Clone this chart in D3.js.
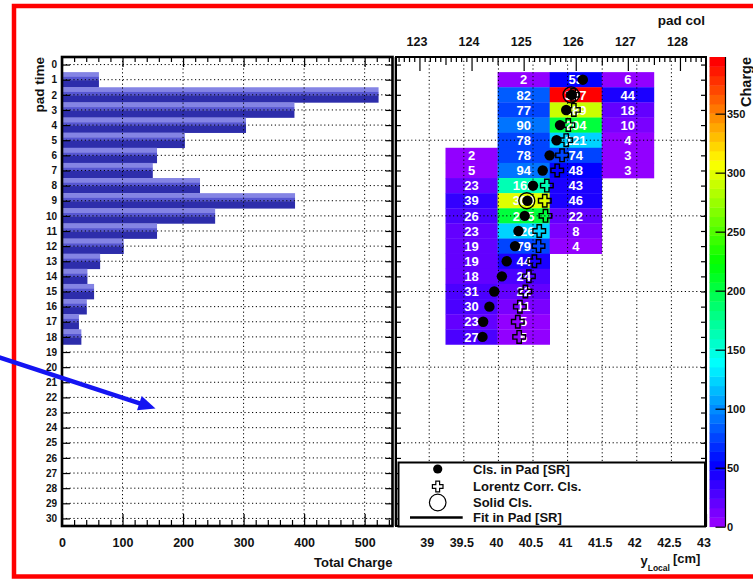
<!DOCTYPE html>
<html><head><meta charset="utf-8">
<script src="https://cdn.jsdelivr.net/npm/d3@7"></script>
<style>
body{margin:0;background:#fff}
svg{display:block}
text{font-family:"Liberation Sans",Arial,sans-serif;font-weight:bold;fill:#111}
</style>
</head><body>
<svg id="c" width="753" height="581"></svg>
<script>
// ---------------- data ----------------
const padTime = d3.range(0, 31);
const totalCharge = [0,61,523,384,304,203,157,150,228,385,253,157,102,63,42,53,41,28,32,0,0,0,0,0,0,0,0,0,0,0,0];
const chargeTicks = [0,100,200,300,400,500];

const padCols = [124,125,126,127];
const colStartRow = [6,1,1,1];
const colCharge = [
  [2,5,23,39,26,23,19,19,18,31,30,23,27],
  [2,82,77,90,78,78,94,162,300,205,126,79,44,24,22,11,5,5],
  [53,397,289,204,121,74,48,43,46,22,8,4],
  [6,44,18,10,4,3,3]
];
const padColTicks = [123,124,125,126,127,128];
const yLocalTicks = [39,39.5,40,40.5,41,41.5,42,42.5,43];
const zTicks = [0,50,100,150,200,250,300,350];

const clsRows = [1,2,3,4,5,6,7,8,9,10,11,12,13,14,15,16,17,18];
const clsY = [41.22,41.06,40.98,40.89,40.84,40.74,40.64,40.50,40.42,40.38,40.29,40.24,40.12,40.05,39.94,39.87,39.78,39.77];
const lorentzRows = [2,3,4,5,6,7,8,9,10,11,12,13,14,15,16,17,18];
const lorentzY = [41.08,41.09,41.01,40.98,40.92,40.85,40.70,40.67,40.68,40.59,40.58,40.52,40.44,40.39,40.31,40.28,40.30];
const solidRows = [2,9];
const solidY = [41.05,40.41];
const legendLabels = ["Cls. in Pad [SR]","Lorentz Corr. Cls.","Solid Cls.","Fit in Pad [SR]"];

// ---------------- layout ----------------
const svg = d3.select('#c');
const L = {x0:62, x1:392.5, y0:57, y1:526};
const R = {x0:396, x1:706, y0:57, y1:526};
const CB = {x0:709.5, x1:725.5};
const zMax = 398;

const yRow = d3.scaleLinear().domain([-0.5,30.5]).range([L.y0, L.y1]);
const xL = d3.scaleLinear().domain([0,546]).range([L.x0, L.x1]);
const xPad = d3.scaleLinear().domain([122.55,128.5]).range([R.x0, R.x1]);
const xLoc = d3.scaleLinear().domain([38.52,43.0]).range([R.x0, R.x1]);
const zScale = d3.scaleLinear().domain([0,zMax]).range([526.7, 57]);
const nPal = 50;
const palette = d3.range(nPal).map(i => d3.hsl(280-(i+1)*280/nPal, 1, 0.5).formatHex());
const zColor = d3.scaleQuantize().domain([0,zMax]).range(palette);

function dotted(g, x1,y1,x2,y2){
  g.append('line').attr('x1',x1).attr('y1',y1).attr('x2',x2).attr('y2',y2)
   .attr('stroke','#000').attr('stroke-width',1).attr('stroke-dasharray','1.2,2.6');
}
function crossPath(cx, cy, a=6.3, w=2.2){
  return `M${cx-w},${cy-a}h${2*w}v${a-w}h${a-w}v${2*w}h${-(a-w)}v${a-w}h${-2*w}v${-(a-w)}h${-(a-w)}v${-2*w}h${a-w}Z`;
}
function styleAxis(g, size){
  g.select('.domain').remove();
  g.selectAll('line').attr('stroke','#000').attr('stroke-width',1.2);
  g.selectAll('text').style('font-size',size+'px').attr('fill','#111');
}

// ---------------- left panel ----------------
const gL = svg.append('g');
const barColors = ['#8484e4','#5656d2','#2d2dab'];
const barFrac = [0,0.31,0.53,1];
padTime.forEach((t,i) => {
  const v = totalCharge[i];
  if (!v) return;
  const ya = yRow(t-0.5), yb = yRow(t+0.5);
  for (let k=0;k<3;k++){
    gL.append('rect').attr('x', xL(0)).attr('width', xL(v)-xL(0))
      .attr('y', ya+(yb-ya)*barFrac[k]).attr('height', (yb-ya)*(barFrac[k+1]-barFrac[k])+0.3)
      .attr('fill', barColors[k]);
  }
});
// grid
padTime.forEach(t => dotted(gL, L.x0, yRow(t), L.x1, yRow(t)));
chargeTicks.slice(1).forEach(c => dotted(gL, xL(c), L.y0, xL(c), L.y1));

// axes
const axL = gL.append('g').attr('transform',`translate(${L.x0},0)`)
  .call(d3.axisLeft(yRow).tickValues(padTime).tickSize(-8).tickPadding(5).tickFormat(d3.format('d')));
styleAxis(axL, 10);
const axLR = gL.append('g').attr('transform',`translate(${L.x1},0)`)
  .call(d3.axisRight(yRow).tickValues(padTime).tickSize(-7).tickFormat(''));
styleAxis(axLR, 10);
const minorC = d3.range(0,546,20).filter(v => v%100!==0);
const axLB = gL.append('g').attr('transform',`translate(0,${L.y1})`)
  .call(d3.axisBottom(xL).tickValues(chargeTicks).tickSize(-12).tickPadding(12.6).tickFormat(d3.format('d')));
styleAxis(axLB, 12.5);
const axLBm = gL.append('g').attr('transform',`translate(0,${L.y1})`)
  .call(d3.axisBottom(xL).tickValues(minorC).tickSize(-6).tickFormat(''));
styleAxis(axLBm, 12);
const axLT = gL.append('g').attr('transform',`translate(0,${L.y0})`)
  .call(d3.axisTop(xL).tickValues(chargeTicks).tickSize(-10).tickFormat(''));
styleAxis(axLT, 12);
const axLTm = gL.append('g').attr('transform',`translate(0,${L.y0})`)
  .call(d3.axisTop(xL).tickValues(minorC).tickSize(-5).tickFormat(''));
styleAxis(axLTm, 12);

gL.append('rect').attr('x',L.x0).attr('y',L.y0).attr('width',L.x1-L.x0).attr('height',L.y1-L.y0)
  .attr('fill','none').attr('stroke','#000').attr('stroke-width',2.6);

gL.append('text').attr('transform',`translate(43.5,${L.y0}) rotate(-90)`)
  .attr('text-anchor','end').style('font-size','13.5px').text('pad time');
gL.append('text').attr('x',L.x1).attr('y',567).attr('text-anchor','end')
  .style('font-size','13px').text('Total Charge');

// ---------------- right panel ----------------
const gR = svg.append('g');
gR.append('line').attr('x1',394.7).attr('x2',394.7).attr('y1',L.y0).attr('y2',L.y1).attr('stroke','#999').attr('stroke-width',1);

const cells = [];
padCols.forEach((c,ci) => colCharge[ci].forEach((v,k) => cells.push({col:c, row:colStartRow[ci]+k, v})));
gR.selectAll('rect.cell').data(cells).join('rect').attr('class','cell')
  .attr('x', d => xPad(d.col-0.5)).attr('width', d => xPad(d.col+0.5)-xPad(d.col-0.5)+0.3)
  .attr('y', d => yRow(d.row-0.5)).attr('height', d => yRow(d.row+0.5)-yRow(d.row-0.5)+0.3)
  .attr('fill', d => zColor(d.v));

// grid
yLocalTicks.slice(0,-1).forEach(v => dotted(gR, xLoc(v), R.y0, xLoc(v), R.y1));
[5,10,15,20,25,30].forEach(t => dotted(gR, R.x0, yRow(t), R.x1, yRow(t)));

// cell text
gR.selectAll('text.cv').data(cells).join('text').attr('class','cv')
  .attr('x', d => xPad(d.col)).attr('y', d => yRow(d.row)).attr('dy','0.36em')
  .attr('text-anchor','middle').style('font-size','13px').attr('fill','#fff').style('fill','#fff')
  .text(d => d.v);

// axes
const axRL = gR.append('g').attr('transform',`translate(${R.x0},0)`)
  .call(d3.axisLeft(yRow).tickValues(padTime).tickSize(-5).tickFormat(''));
styleAxis(axRL, 10);
const axRR = gR.append('g').attr('transform',`translate(${R.x1},0)`)
  .call(d3.axisRight(yRow).tickValues(padTime).tickSize(-5).tickFormat(''));
styleAxis(axRR, 10);
const axRT = gR.append('g').attr('transform',`translate(0,${R.y0})`)
  .call(d3.axisTop(xPad).tickValues(padColTicks).tickSize(-14).tickPadding(11).tickFormat(d3.format('d')));
styleAxis(axRT, 12.5);
axRT.selectAll('text').attr('dx', -3);
const padMinor = d3.range(1226,1285).map(v => v/10).filter(v => Math.abs(v-Math.round(v))>1e-6);
const axRTm = gR.append('g').attr('transform',`translate(0,${R.y0})`)
  .call(d3.axisTop(xPad).tickValues(padMinor).tickSize(-5).tickFormat(''));
styleAxis(axRTm, 10);
axRTm.selectAll('.tick').filter(d => Math.abs(d*2-Math.round(d*2))<1e-6).select('line').attr('y2', 8);
const axRB = gR.append('g').attr('transform',`translate(0,${R.y1})`)
  .call(d3.axisBottom(xLoc).tickValues(yLocalTicks).tickSize(-12).tickPadding(12.6).tickFormat(d3.format('~g')));
styleAxis(axRB, 12.5);
axRB.selectAll('text').attr('dx', -2.5);

gR.append('rect').attr('x',R.x0).attr('y',R.y0).attr('width',R.x1-R.x0).attr('height',R.y1-R.y0)
  .attr('fill','none').attr('stroke','#000').attr('stroke-width',2);

// markers
solidRows.forEach((r,i) => gR.append('circle').attr('cx', xLoc(solidY[i])).attr('cy', yRow(r)).attr('r', 8)
  .attr('fill','none').attr('stroke','#000').attr('stroke-width',1.3));
lorentzRows.forEach((r,i) => gR.append('path').attr('d', crossPath(xLoc(lorentzY[i]), yRow(r)))
  .attr('fill','none').attr('stroke','#000').attr('stroke-width',1.4));
clsRows.forEach((r,i) => gR.append('circle').attr('cx', xLoc(clsY[i])).attr('cy', yRow(r)).attr('r', 5.2).attr('fill','#000'));

// legend
const lg = gR.append('g');
lg.append('rect').attr('x',398.5).attr('y',462.5).attr('width',306.5).attr('height',64)
  .attr('fill','#fff').attr('stroke','#000').attr('stroke-width',2);
const legY = [469,486.5,502.5,517.5];
lg.append('circle').attr('cx',437.7).attr('cy',legY[0]).attr('r',4.6).attr('fill','#000');
lg.append('path').attr('d', crossPath(437.7, legY[1], 5.3, 1.9)).attr('fill','none').attr('stroke','#000').attr('stroke-width',1.2);
lg.append('circle').attr('cx',437.7).attr('cy',legY[2]).attr('r',8.3).attr('fill','none').attr('stroke','#000').attr('stroke-width',1.2);
lg.append('line').attr('x1',410).attr('x2',462.7).attr('y1',legY[3]).attr('y2',legY[3]).attr('stroke','#000').attr('stroke-width',2.6);
legendLabels.forEach((t,i) => lg.append('text').attr('x',473).attr('y',legY[i]).attr('dy','0.36em')
  .style('font-size','13px').attr('fill','#222').text(t));

// titles
gR.append('text').attr('x',705).attr('y',24.5).attr('text-anchor','end').style('font-size','13.5px').text('pad col');
const yl = gR.append('text').attr('x',640.5).attr('y',565).style('font-size','13px');
yl.append('tspan').text('y');
yl.append('tspan').attr('dy',6).style('font-size','8.5px').text('Local');
yl.append('tspan').attr('dy',-8).attr('dx',3).text('[cm]');

// ---------------- color bar ----------------
const gC = svg.append('g');
d3.range(nPal).forEach(i => {
  const a = i*zMax/nPal, b = (i+1)*zMax/nPal;
  gC.append('rect').attr('x',CB.x0).attr('width',CB.x1-CB.x0)
    .attr('y', zScale(b)).attr('height', zScale(a)-zScale(b)+0.4).attr('fill', palette[i]);
});
const axZ = gC.append('g').attr('transform',`translate(${CB.x1},0)`)
  .call(d3.axisRight(zScale).tickValues(zTicks).tickSize(-10).tickPadding(1.5).tickFormat(d3.format('d')));
styleAxis(axZ, 11);
gC.append('line').attr('x1',CB.x1).attr('x2',CB.x1).attr('y1',57).attr('y2',526.7).attr('stroke','#000').attr('stroke-width',1.2);
gC.append('text').attr('transform','translate(751,57) rotate(-90)').attr('text-anchor','end')
  .style('font-size','14.5px').text('Charge');

// ---------------- frame & arrow ----------------
svg.append('rect').attr('x',14).attr('y',6).attr('width',800).attr('height',570.5)
  .attr('fill','none').attr('stroke','#ff0000').attr('stroke-width',4.5);
const tip = [155.5,408.5], tail = [-2,357];
const ux = tip[0]-tail[0], uy = tip[1]-tail[1], ul = Math.hypot(ux,uy);
const u = [ux/ul, uy/ul], p = [-u[1], u[0]];
const base = [tip[0]-17*u[0], tip[1]-17*u[1]];
svg.append('line').attr('x1',tail[0]).attr('y1',tail[1]).attr('x2',base[0]+2*u[0]).attr('y2',base[1]+2*u[1])
  .attr('stroke','#1414f2').attr('stroke-width',4.5);
svg.append('path').attr('d',`M${tip[0]},${tip[1]}L${base[0]+7.5*p[0]},${base[1]+7.5*p[1]}L${base[0]-7.5*p[0]},${base[1]-7.5*p[1]}Z`)
  .attr('fill','#1414f2');
</script>
</body></html>
